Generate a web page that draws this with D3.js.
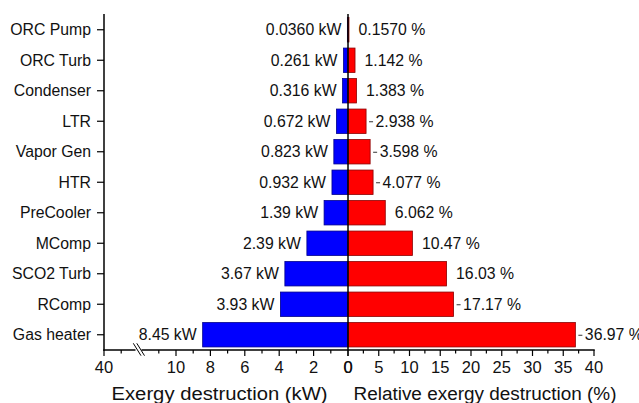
<!DOCTYPE html>
<html>
<head>
<meta charset="utf-8">
<script src="https://cdn.jsdelivr.net/npm/d3@7"></script>
<style>
  html, body { margin: 0; padding: 0; background: #fff; }
  svg { display: block; font-family: "Liberation Sans", Arial, sans-serif; }
</style>
</head>
<body>
<svg id="chart" width="639" height="403"></svg>
<script>
// Components, top to bottom
const components = ["ORC Pump", "ORC Turb", "Condenser", "LTR", "Vapor Gen", "HTR",
                    "PreCooler", "MComp", "SCO2 Turb", "RComp", "Gas heater"];
// Exergy destruction per component (kW)
const exergyKW = [0.0360, 0.261, 0.316, 0.672, 0.823, 0.932, 1.39, 2.39, 3.67, 3.93, 8.45];
// Share of total exergy destruction (%)
const relativePct = [0.1570, 1.142, 1.383, 2.938, 3.598, 4.077, 6.062, 10.47, 16.03, 17.17, 36.97];
// Percentage labels drawn with a short leader line
const leaderRows = ["LTR", "Vapor Gen", "HTR", "RComp", "Gas heater"];

// Axis ticks
const leftMajorTicks = [0, 2, 4, 6, 8, 10];
const leftMinorTicks = [1, 3, 5, 7, 9, 11];
const leftBrokenMajor = [40];
const leftBrokenMinor = [38];
const rightMajorTicks = [0, 5, 10, 15, 20, 25, 30, 35, 40];
const rightMinorTicks = [2.5, 7.5, 12.5, 17.5, 22.5, 27.5, 32.5, 37.5];

const svg = d3.select("#chart");

const axisLeftX = 104, zeroX = 348, rightEndX = 594;
const plotTop = 14, plotBottom = 350;
const labelSize = 15.8;

// Scales
const y = d3.scaleBand().domain(components).range([plotTop + 0.5, plotBottom]).paddingInner(0.2).paddingOuter(0.1);
const xLeft = d3.scaleLinear().domain([0, 10]).range([zeroX, zeroX - 172]);          // 0–11 kW segment
const xLeftBroken = d3.scaleLinear().domain([36, 40]).range([axisLeftX + 34.4, axisLeftX]); // segment past the break
const xRight = d3.scaleLinear().domain([0, 40]).range([zeroX, rightEndX]);

const rows = components.map((c, i) => ({ name: c, kw: exergyKW[i], pct: relativePct[i] }));
const fmtKW = d3.format(".3g");
const fmtPct = d3.format(".4g");

// Bars: exergy destruction to the left
svg.append("g").selectAll("rect").data(rows).join("rect")
  .attr("x", d => xLeft(d.kw))
  .attr("y", d => y(d.name))
  .attr("width", d => xLeft(0) - xLeft(d.kw))
  .attr("height", y.bandwidth())
  .attr("fill", "#0000ff")
  .attr("stroke", "#00008b")
  .attr("stroke-width", 0.8);

// Bars: relative exergy destruction to the right
svg.append("g").selectAll("rect").data(rows).join("rect")
  .attr("x", xRight(0))
  .attr("y", d => y(d.name))
  .attr("width", d => xRight(d.pct) - xRight(0))
  .attr("height", y.bandwidth())
  .attr("fill", "#ff0000")
  .attr("stroke", "#8b0000")
  .attr("stroke-width", 0.8);

// Value labels
svg.append("g").selectAll("text").data(rows).join("text")
  .attr("x", d => xLeft(d.kw) - 6)
  .attr("y", d => y(d.name) + y.bandwidth() / 2)
  .attr("dy", "0.36em")
  .attr("text-anchor", "end")
  .attr("font-size", labelSize)
  .attr("fill", "#111")
  .text(d => fmtKW(d.kw) + " kW");

svg.append("g").selectAll("text").data(rows).join("text")
  .attr("x", d => xRight(d.pct) + 9.5)
  .attr("y", d => y(d.name) + y.bandwidth() / 2)
  .attr("dy", "0.36em")
  .attr("font-size", labelSize)
  .attr("fill", "#111")
  .text(d => fmtPct(d.pct) + " %");

svg.append("g").selectAll("line").data(rows.filter(d => leaderRows.includes(d.name))).join("line")
  .attr("x1", d => xRight(d.pct) + 3)
  .attr("x2", d => xRight(d.pct) + 7)
  .attr("y1", d => y(d.name) + y.bandwidth() / 2 + 0.5)
  .attr("y2", d => y(d.name) + y.bandwidth() / 2 + 0.5)
  .attr("stroke", "#333")
  .attr("stroke-width", 1);

// Axis lines
const axes = svg.append("g").attr("stroke", "#000").attr("fill", "none");
axes.append("line").attr("x1", axisLeftX).attr("x2", axisLeftX).attr("y1", plotTop).attr("y2", plotBottom + 0.75).attr("stroke-width", 1.5);
axes.append("line").attr("x1", zeroX).attr("x2", zeroX).attr("y1", plotTop).attr("y2", plotBottom).attr("stroke-width", 1.5);
axes.append("line").attr("x1", axisLeftX - 0.75).attr("x2", rightEndX + 0.75).attr("y1", plotBottom).attr("y2", plotBottom).attr("stroke-width", 1.5);

// Category ticks and labels
const cat = svg.append("g");
cat.selectAll("line").data(components).join("line")
  .attr("x1", axisLeftX - 7).attr("x2", axisLeftX)
  .attr("y1", d => y(d) + y.bandwidth() / 2).attr("y2", d => y(d) + y.bandwidth() / 2)
  .attr("stroke", "#000").attr("stroke-width", 1.2);
cat.selectAll("text").data(components).join("text")
  .attr("x", axisLeftX - 13)
  .attr("y", d => y(d) + y.bandwidth() / 2)
  .attr("dy", "0.36em")
  .attr("text-anchor", "end")
  .attr("font-size", labelSize)
  .attr("fill", "#111")
  .text(d => d);

// Bottom ticks
function ticks(scale, values, len) {
  svg.append("g").selectAll("line").data(values).join("line")
    .attr("x1", d => scale(d)).attr("x2", d => scale(d))
    .attr("y1", plotBottom).attr("y2", plotBottom + len)
    .attr("stroke", "#000").attr("stroke-width", 1.2);
}
function tickLabels(scale, values) {
  svg.append("g").selectAll("text").data(values).join("text")
    .attr("x", d => scale(d))
    .attr("y", 373)
    .attr("text-anchor", "middle")
    .attr("font-size", 16.5)
    .attr("fill", "#111")
    .text(d => d);
}
ticks(xLeft, leftMajorTicks, 6);
ticks(xLeft, leftMinorTicks, 3.5);
ticks(xLeftBroken, leftBrokenMajor, 6);
ticks(xLeftBroken, leftBrokenMinor, 3.5);
ticks(xRight, rightMajorTicks, 6);
ticks(xRight, rightMinorTicks, 3.5);
tickLabels(xLeft, leftMajorTicks);
tickLabels(xLeftBroken, leftBrokenMajor);
tickLabels(xRight, rightMajorTicks);

// Axis break mark
const brk = svg.append("g").attr("stroke", "#000").attr("stroke-width", 1);
brk.append("rect").attr("x", 135.5).attr("y", plotBottom - 1.5).attr("width", 6).attr("height", 3).attr("fill", "#fff").attr("stroke", "none");
brk.append("line").attr("x1", 133.3).attr("y1", 343.3).attr("x2", 141).attr("y2", 355.7);
brk.append("line").attr("x1", 136.8).attr("y1", 343.3).attr("x2", 144.5).attr("y2", 355.7);

// Axis titles
svg.append("text").attr("x", 111.5).attr("y", 400).attr("font-size", 18)
  .attr("textLength", 216).attr("lengthAdjust", "spacingAndGlyphs")
  .attr("fill", "#111").text("Exergy destruction (kW)");
svg.append("text").attr("x", 353.5).attr("y", 400).attr("font-size", 18)
  .attr("textLength", 263).attr("lengthAdjust", "spacingAndGlyphs")
  .attr("fill", "#111").text("Relative exergy destruction (%)");
</script>
</body>
</html>
